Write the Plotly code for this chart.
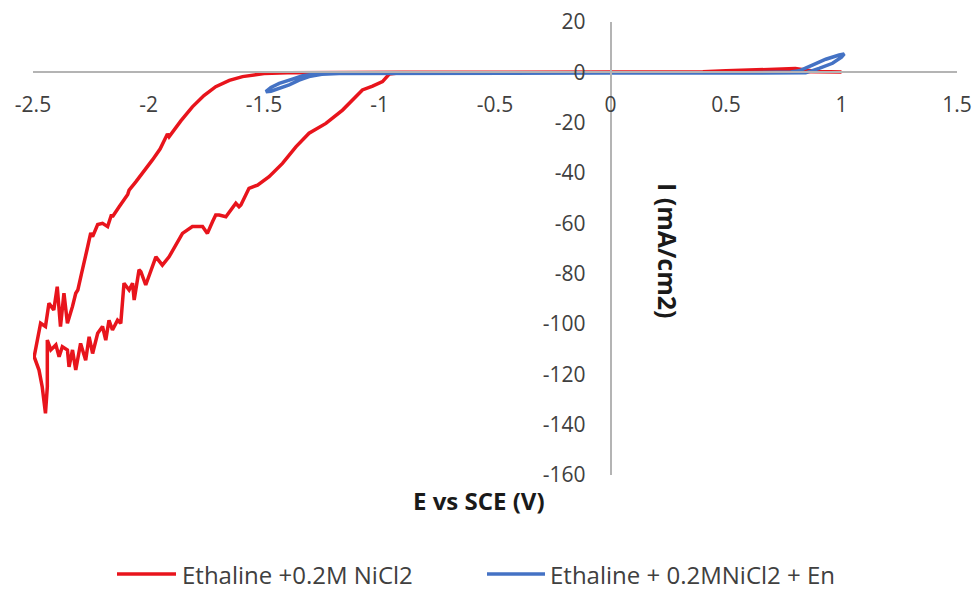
import plotly.graph_objects as go

# ---------------- data ----------------
# Ethaline +0.2M NiCl2 (red) : potential E (V) and current I (mA/cm2)
red_E = [0.0, 0.3, 0.4, 0.5, 0.6, 0.7, 0.8, 0.85, 0.9, 1.0,
         0.8, 0.5, 0.0, -0.5, -0.9, -1.2, -1.4, -1.5,
         -1.55, -1.593, -1.65, -1.709, -1.76, -1.81, -1.86, -1.911, -1.918, -1.95, -1.983,
         -2.02, -2.055, -2.084, -2.09, -2.127, -2.156, -2.16, -2.177, -2.199, -2.22, -2.242,
         -2.25, -2.265, -2.278, -2.29, -2.306, -2.315, -2.329, -2.351, -2.366, -2.381,
         -2.395, -2.41, -2.431, -2.446, -2.467, -2.481, -2.495, -2.474, -2.46, -2.446,
         -2.438, -2.438,
         -2.423, -2.401, -2.387, -2.373, -2.351, -2.344, -2.329, -2.315, -2.294, -2.272,
         -2.257, -2.242, -2.22, -2.199, -2.185, -2.171, -2.156, -2.134, -2.12, -2.106,
         -2.084, -2.069, -2.062, -2.041, -2.033, -2.012, -1.968, -1.94, -1.911, -1.853,
         -1.81, -1.766, -1.745, -1.723, -1.709, -1.694, -1.665, -1.622, -1.608, -1.6,
         -1.565, -1.528, -1.478, -1.42, -1.362, -1.305, -1.232, -1.16, -1.124, -1.074,
         -1.03, -0.987, -0.958, -0.9, -0.5, 0.0]
red_I = [0.0, 0.0, 0.2, 0.6, 1.0, 1.3, 1.5, 0.8, 0.3, 0.1,
         0.3, 0.2, 0.0, 0.0, 0.0, -0.05, -0.2, -0.5,
         -1.0, -1.7, -3.2, -5.7, -9.2, -13.7, -19.3, -25.6, -24.5, -30.5, -34.8,
         -39.5, -43.5, -46.8, -48.5, -53.4, -57.4, -56.5, -61.3, -60.0, -60.5, -65.3,
         -63.8, -70.0, -75.9, -80.0, -86.5, -87.8, -93.0, -99.7, -87.8, -101.0,
         -85.2, -94.4, -91.8, -101.0, -99.7, -106.4, -113.0, -118.3, -125.0, -135.5,
         -125.0, -106.4,
         -110.3, -108.3, -113.0, -109.0, -110.3, -117.0, -110.3, -118.3, -107.7, -114.4,
         -105.1, -111.7, -103.7, -101.0, -106.4, -98.5, -102.4, -98.5, -99.7, -83.8,
         -86.5, -83.8, -90.5, -78.5, -79.2, -84.5, -73.3, -76.6, -73.3, -64.0,
         -61.3, -61.3, -64.0, -59.4, -56.7, -56.7, -57.4, -52.0, -53.4, -52.7,
         -46.1, -44.8, -41.5, -36.2, -29.6, -24.2, -20.3, -15.0, -11.5, -7.0,
         -5.5, -3.7, -0.7, -0.1, 0.0, 0.0]

# Ethaline + 0.2MNiCl2 + En (blue)
blue_E = [0.0, 0.5, 0.8, 0.845, 0.903, 0.961, 1.0, 1.012,
          0.99, 0.932, 0.874, 0.817, 0.78, 0.5, 0.0, -0.5, -1.0, -1.2, -1.3,
          -1.333, -1.377, -1.434, -1.47, -1.492,
          -1.47, -1.434, -1.391, -1.348, -1.305, -1.25, -1.15, -1.0, -0.5, 0.0]
blue_I = [-0.3, -0.3, -0.3, -0.2, 1.6, 3.6, 6.0, 7.3,
          6.9, 5.2, 2.9, 0.6, 0.1, -0.3, -0.3, -0.3, -0.3, -0.5, -1.0,
          -1.3, -2.7, -4.4, -6.0, -7.7,
          -7.5, -6.4, -5.0, -3.1, -1.7, -0.8, -0.4, -0.3, -0.3, -0.3]

series_names = ["Ethaline +0.2M NiCl2", "Ethaline + 0.2MNiCl2 + En"]
series_colors = ["#e8141c", "#4472c4"]

x_ticks = [-2.5, -2.0, -1.5, -1.0, -0.5, 0.0, 0.5, 1.0, 1.5]
x_tick_text = ["-2.5", "-2", "-1.5", "-1", "-0.5", "0", "0.5", "1", "1.5"]
y_ticks = [20, 0, -20, -40, -60, -80, -100, -120, -140, -160]
y_tick_text = ["20", "0", "-20", "-40", "-60", "-80", "-100", "-120", "-140", "-160"]

x_title = "E vs SCE (V)"
y_title = "I (mA/cm2)"

# ---------------- figure ----------------
X_RANGE = [-2.5, 1.5]
Y_RANGE = [-160, 20]
FONT = "Open Sans"
TICK_COLOR = "#404040"
AXIS_COLOR = "#b4b4b4"
W, H = 975, 590
ML, MR, MT, MB = 33, 18, 22, 115
PW, PH = W - ML - MR, H - MT - MB


def px_x(px):
    return (px - ML) / PW


def px_y(py):
    return (H - MB - py) / PH


fig = go.Figure()
fig.add_trace(go.Scatter(x=red_E, y=red_I, mode="lines", name=series_names[0],
                         line=dict(color=series_colors[0], width=3.5)))
fig.add_trace(go.Scatter(x=blue_E, y=blue_I, mode="lines", name=series_names[1],
                         line=dict(color=series_colors[1], width=3.5)))

x0_frac = (0 - X_RANGE[0]) / (X_RANGE[1] - X_RANGE[0])
y0_frac = (0 - Y_RANGE[0]) / (Y_RANGE[1] - Y_RANGE[0])

# legend drawn as paper-positioned samples + labels (bottom row)
legend_rows = [(117, 176, 181), (487, 545, 549)]
LEG_Y = 574
shapes = []
annotations = []
for (x_a, x_b, x_t), name, col in zip(legend_rows, series_names, series_colors):
    shapes.append(dict(type="line", xref="paper", yref="paper",
                       x0=px_x(x_a), x1=px_x(x_b), y0=px_y(LEG_Y), y1=px_y(LEG_Y),
                       line=dict(color=col, width=3.5)))
    annotations.append(dict(text=name, xref="paper", yref="paper",
                            x=px_x(x_t), y=px_y(LEG_Y), showarrow=False,
                            xanchor="left", yanchor="middle", borderpad=0,
                            font=dict(family=FONT, size=24, color=TICK_COLOR)))

annotations += [
    dict(text="<b>" + x_title + "</b>", xref="paper", yref="paper",
         x=px_x(479), y=px_y(500), showarrow=False,
         xanchor="center", yanchor="middle",
         font=dict(family=FONT, size=24, color="#1a1a1a")),
    dict(text="<b>" + y_title + "</b>", xref="paper", yref="paper",
         x=px_x(668), y=px_y(251), showarrow=False,
         xanchor="center", yanchor="middle", textangle=90,
         font=dict(family=FONT, size=25, color="#1a1a1a")),
]

fig.update_layout(
    width=W, height=H,
    margin=dict(l=ML, r=MR, t=MT, b=MB, autoexpand=False),
    paper_bgcolor="white", plot_bgcolor="white",
    font=dict(family=FONT, size=21, color=TICK_COLOR),
    showlegend=False,
    xaxis=dict(range=X_RANGE, anchor="free", position=y0_frac, automargin=False,
               showline=True, linecolor=AXIS_COLOR, linewidth=1.5,
               showgrid=False, zeroline=False, ticks="",
               tickvals=x_ticks, ticktext=x_tick_text,
               ticklabelstandoff=14, tickfont=dict(size=21, color=TICK_COLOR)),
    yaxis=dict(range=Y_RANGE, anchor="free", position=x0_frac, automargin=False,
               showline=True, linecolor=AXIS_COLOR, linewidth=1.5,
               showgrid=False, zeroline=False, ticks="",
               tickvals=y_ticks, ticktext=y_tick_text,
               ticklabelstandoff=20, tickfont=dict(size=21, color=TICK_COLOR)),
    shapes=shapes,
    annotations=annotations,
)

fig.write_html("out.html",
               config={"displayModeBar": False},
               post_script="document.body.style.margin='0px';"
                           "document.body.style.overflow='hidden';")
